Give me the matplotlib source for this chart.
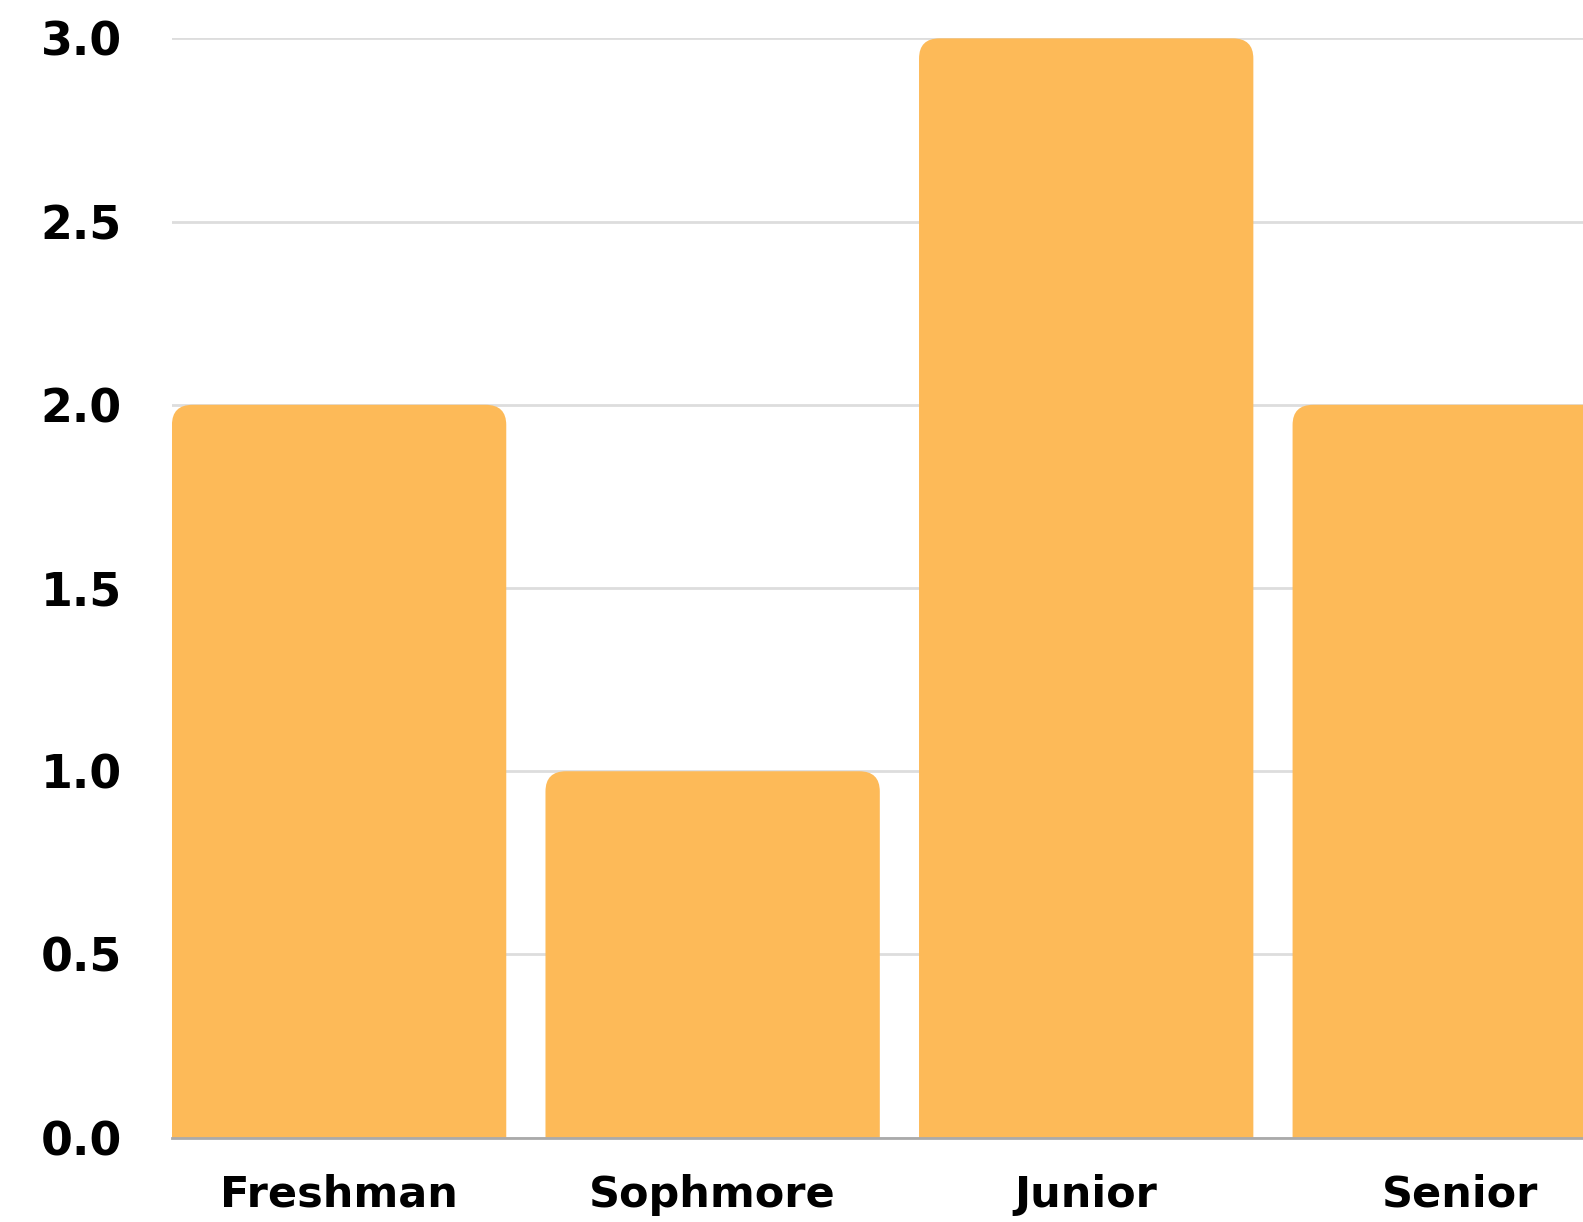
import matplotlib
matplotlib.use("Agg")
import matplotlib.pyplot as plt
from matplotlib.patches import FancyBboxPatch

categories = ["Freshman", "Sophmore", "Junior", "Senior"]
counts = [2, 1, 3, 2]
yticks = [0.0, 0.5, 1.0, 1.5, 2.0, 2.5, 3.0]
bar_color = "#FDBA58"

fig = plt.figure(figsize=(15.83, 12.22), dpi=100)
ax = fig.add_axes([0.1085, 0.069, 0.8915, 0.8996])

bars = ax.bar(range(len(categories)), counts, width=0.895, color=bar_color, zorder=2)
# swap the plain rectangles for ones with rounded tops
for b in bars:
    x, y = b.get_x(), b.get_y()
    w, h = b.get_width(), b.get_height()
    b.set_visible(False)
    r = 0.055
    p = FancyBboxPatch((x + r, y - 0.2 + r), w - 2 * r, h + 0.2 - 2 * r,
                       boxstyle="round,pad=%f" % r, mutation_aspect=1.0,
                       facecolor=bar_color, edgecolor="none", zorder=2,
                       clip_on=True)
    ax.add_patch(p)

ax.set_xlim(-0.448, 3.33)
ax.set_ylim(0, 3.0)
ax.set_yticks(yticks)
ax.set_yticklabels(["%.1f" % v for v in yticks], fontsize=33, fontweight="bold")
ax.set_xticks(range(len(categories)))
ax.set_xticklabels(categories, fontsize=31, fontweight="bold")
ax.tick_params(axis="y", length=0, pad=36)
ax.tick_params(axis="x", length=0, pad=26)

ax.grid(axis="y", color="#dddddd", linewidth=2, zorder=0)
for s in ["top", "right", "left"]:
    ax.spines[s].set_visible(False)
ax.spines["bottom"].set_color("#aaaaaa")
ax.spines["bottom"].set_linewidth(2)
ax.spines["bottom"].set_zorder(3)

fig.savefig("out.png", dpi=100)
